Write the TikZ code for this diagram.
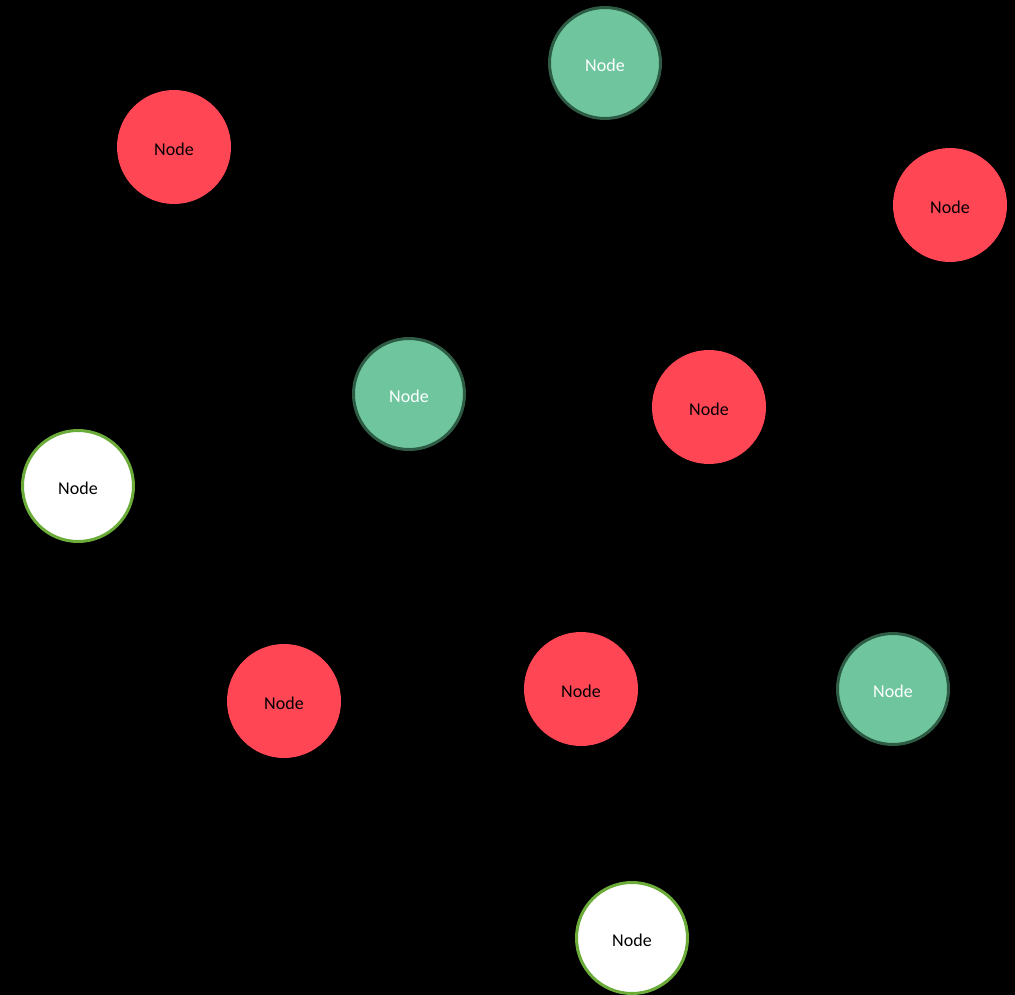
\documentclass[tikz,border=0pt]{standalone}
\usepackage{fontspec}
\setmainfont{Carlito}
\definecolor{redfill}{HTML}{FF4655}
\definecolor{greenfill}{HTML}{6FC69E}
\definecolor{greenstroke}{HTML}{2D5B43}
\definecolor{limestroke}{HTML}{6AAB3A}
\newcommand{\nodelabel}{\raisebox{-8.3pt}[0pt][0pt]{Node}}
\begin{document}
\begin{tikzpicture}[x=1pt,y=-1pt,
  base/.style={circle,minimum size=114pt,inner sep=0pt,font=\fontsize{18}{20}\selectfont},
  rednode/.style={base,fill=redfill,draw=none,text=black},
  greennode/.style={base,fill=greenfill,draw=greenstroke,line width=3pt,minimum size=111pt,text=white},
  whitenode/.style={base,fill=white,draw=limestroke,line width=3pt,minimum size=111pt,text=black}]
\fill[black] (0,0) rectangle (1015,995);
\useasboundingbox (0,0) rectangle (1015,995);
\node[greennode] (g1) at (605,63) {\nodelabel};
\node[rednode] (r1) at (174,147) {\nodelabel};
\node[rednode] (r2) at (950,205) {\nodelabel};
\node[greennode] (g2) at (409,394) {\nodelabel};
\node[rednode] (r3) at (709,407) {\nodelabel};
\node[whitenode] (w1) at (78,486) {\nodelabel};
\node[rednode] (r4) at (284,701) {\nodelabel};
\node[rednode] (r5) at (581,689) {\nodelabel};
\node[greennode] (g3) at (893,689) {\nodelabel};
\node[whitenode] (w2) at (632,938) {\nodelabel};
\end{tikzpicture}
\end{document}
